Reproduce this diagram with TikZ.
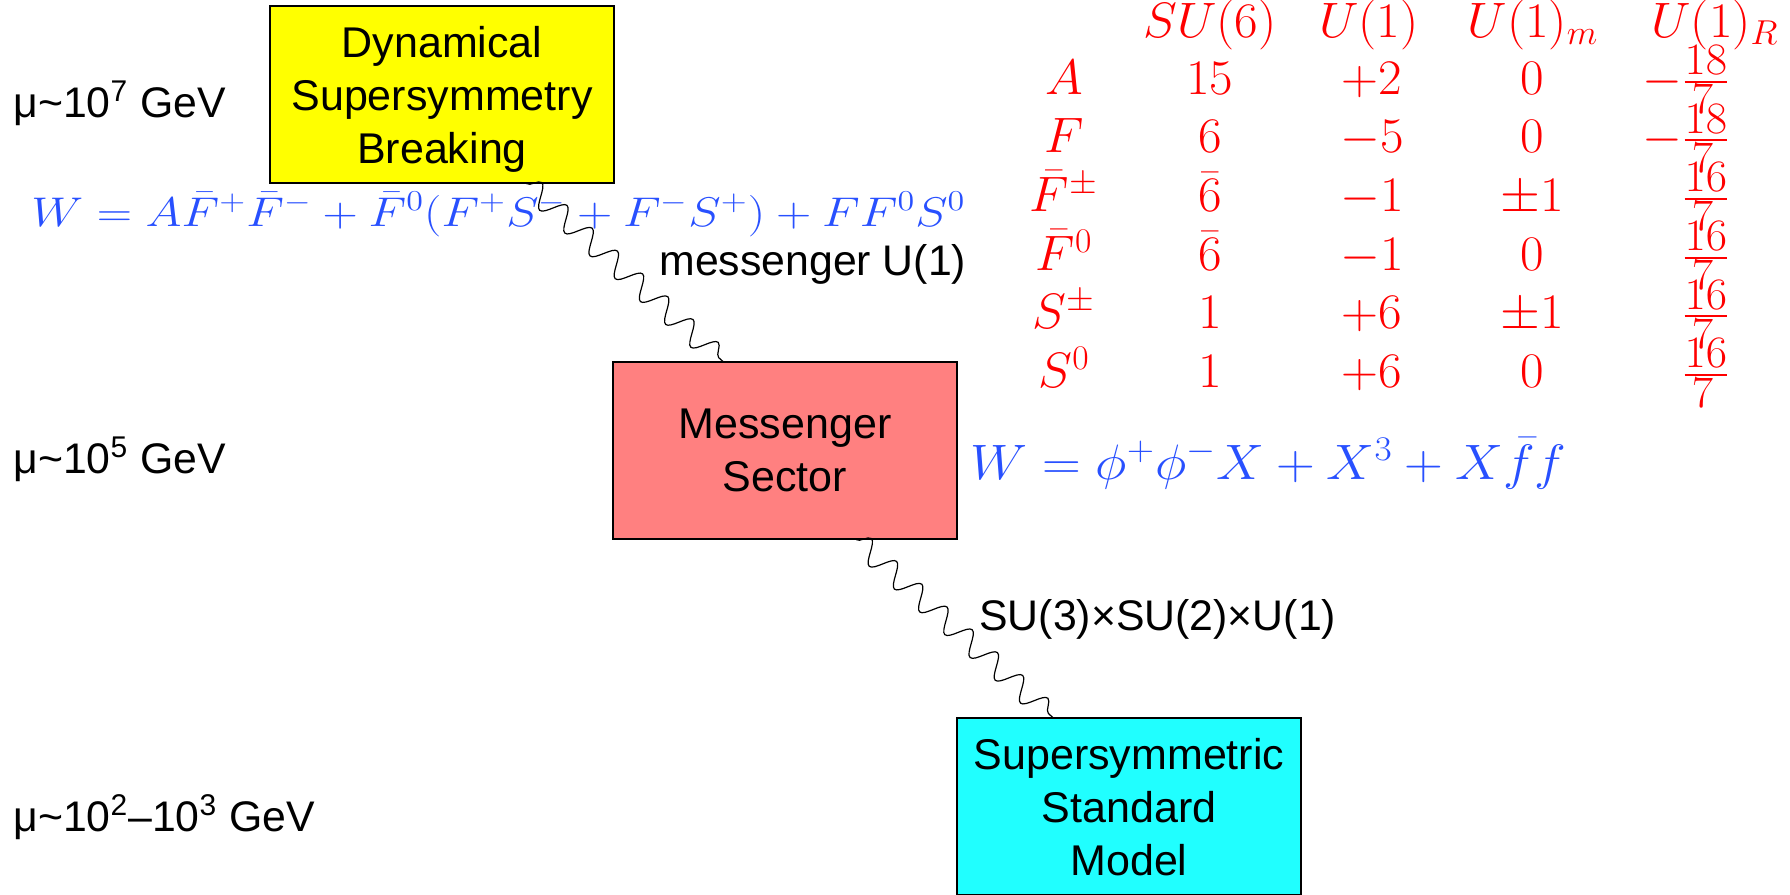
\documentclass[tikz,border=0pt]{standalone}
\usepackage[no-math]{fontspec}
\usepackage{amsmath}
\usepackage{graphicx}
\usetikzlibrary{decorations.pathmorphing,calc}

\newfontfamily\helv{Liberation Sans}

\definecolor{potblue}{RGB}{40,80,255}
\definecolor{dsbyellow}{RGB}{255,255,0}
\definecolor{messpink}{RGB}{255,128,128}
\definecolor{ssmcyan}{RGB}{32,255,255}

% math pasted a little wider than it is tall
\newcommand\widemath[2]{\scalebox{#1}[1]{$#2$}}
% charge fractions with large digits
\newcommand\chfrac[2]{\frac{\scalebox{1.3}{$\scriptstyle #1$}}{\scalebox{1.3}{$\scriptstyle #2$}}}

\tikzset{
  sector/.style={draw=black, line width=0.6pt, inner sep=0pt, align=center,
    minimum width=172pt, minimum height=88.5pt, text depth=0pt,
    font=\helv\fontsize{21.5}{26.5}\selectfont},
  side label/.style={anchor=base west, inner sep=0pt,
    font=\helv\fontsize{21.4}{25}\selectfont},
  superpot/.style={anchor=base west, inner sep=0pt, text=potblue},
  charge/.style={anchor=base, inner sep=0pt, text=red,
    font=\fontsize{23}{28}\selectfont},
  photon/.style={decorate, decoration={snake, segment length=17pt, amplitude=5.5pt},
    line width=0.6pt}
}

\begin{document}
\begin{tikzpicture}[x=0.5pt, y=-0.5pt]
\useasboundingbox (0,0) rectangle (1790,895);

% energy scales
\node[side label] (mu7) at (13,117) {μ\textasciitilde10\textsuperscript{7} GeV};
\node[side label] (mu5) at (13,473) {μ\textasciitilde10\textsuperscript{5} GeV};
\node[side label] (mu23) at (13,831) {μ\textasciitilde10\textsuperscript{2}–10\textsuperscript{3} GeV};

% the three sectors
\node[sector, fill=dsbyellow] (dsb) at (442,94.5) {Dynamical\\Supersymmetry\\Breaking};
\node[sector, fill=messpink] (mess) at (785,450.5) {Messenger\\Sector};
\node[sector, fill=ssmcyan] (ssm) at (1129,806.5) {Supersymmetric\\Standard\\Model};

% gauge interactions
\draw[photon] ($(dsb.south west)!0.745!(dsb.south east)$) -- ($(mess.north west)!0.32!(mess.north east)$);
\draw[photon] ($(mess.south west)!0.706!(mess.south east)$) -- ($(ssm.north west)!0.279!(ssm.north east)$);
\node[side label] (u1mess) at (659,275) {messenger U(1)};
\node[side label] (smgauge) at (979,630) {SU(3)×SU(2)×U(1)};

% superpotentials
\node[superpot, font=\fontsize{22}{26}\selectfont] (wdsb) at (31,226)
  {\widemath{1.18}{W = A\bar F^+\bar F^- + \bar F^0(F^+S^- + F^-S^+) + FF^0S^0}};
\node[superpot, font=\fontsize{26}{30}\selectfont] (wmess) at (970,479)
  {\widemath{1.08}{W = \phi^+\phi^-X + X^3 + X\bar f f}};

% charge table
\foreach \x/\grp [count=\c] in {1210/SU(6), 1369/U(1), 1533/U(1)_m, 1715/U(1)_R}
  \node[charge] (head\c) at (\x,37) {\widemath{1.03}{\grp}};
\foreach \fld/\six/\one/\mq/\rq [count=\r] in {
    A/15/+2/0/-\chfrac{18}{7},
    F/6/-5/0/-\chfrac{18}{7},
    \bar F^\pm/\bar 6/-1/\pm 1/\chfrac{16}{7},
    \bar F^0/\bar 6/-1/0/\chfrac{16}{7},
    S^\pm/1/+6/\pm 1/\chfrac{16}{7},
    S^0/1/+6/0/\chfrac{16}{7}} {
  \pgfmathsetmacro\yb{94+58.7*(\r-1)}
  \node[charge] (fld\r) at (1064,\yb) {\widemath{1.03}{\fld}};
  \node[charge] (six\r) at (1210,\yb) {\widemath{1.03}{\six}};
  \node[charge] (one\r) at (1372,\yb) {\widemath{1.03}{\one}};
  \node[charge] (m\r) at (1532,\yb) {\widemath{1.03}{\mq}};
  \node[charge, anchor=base east] (R\r) at (1730,\yb) {\widemath{1.03}{\rq}};
}

\end{tikzpicture}
\end{document}
